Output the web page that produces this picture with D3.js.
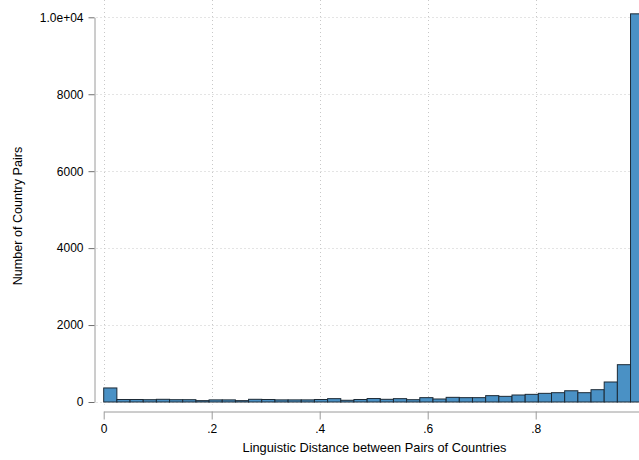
<!DOCTYPE html>
<html>
<head>
<meta charset="utf-8">
<script src="https://cdn.jsdelivr.net/npm/d3@7"></script>
<style>
  html, body { margin: 0; padding: 0; background: #fff; }
  svg { display: block; }
  text { font-family: "Liberation Sans", Arial, Helvetica, sans-serif; }
</style>
</head>
<body>
<svg id="chart" width="639" height="460"></svg>
<script>
// ---- data ----
const binCount = 41;              // number of histogram bins over [0, 1]
const counts = [
  365, 65, 65, 60, 70, 60, 60, 35, 55, 55,
  35, 70, 65, 55, 55, 55, 65, 87, 45, 65,
  90, 70, 87, 60, 113, 78, 121, 113, 113, 165,
  147, 182, 199, 225, 242, 292, 242, 320, 520, 970,
  10090
];
const xTicks = [0, 0.2, 0.4, 0.6, 0.8];
const xTickLabels = ["0", ".2", ".4", ".6", ".8"];
const yTicks = [0, 2000, 4000, 6000, 8000, 10000];
const yTickLabels = ["0", "2000", "4000", "6000", "8000", "1.0e+04"];
const xTitle = "Linguistic Distance between Pairs of Countries";
const yTitle = "Number of Country Pairs";

const bins = counts.map((c, k) => ({ x0: k / binCount, x1: (k + 1) / binCount, n: c }));

// ---- layout ----
const svg = d3.select("#chart");
const x = d3.scaleLinear().domain([0, 1]).range([103.7, 643.7]);
const y = d3.scaleLinear().domain([0, 10000]).range([402, 17.3]);
const plotLeft = 96.5, plotRight = 660, plotTop = 0, plotBottom = 404.5;

// gridlines
const grid = svg.append("g").attr("stroke", "#c8c8c8").attr("stroke-width", 1)
  .attr("stroke-dasharray", "1,3");
grid.selectAll("line.h").data(yTicks).join("line").attr("class", "h")
  .attr("x1", plotLeft).attr("x2", plotRight)
  .attr("y1", d => Math.round(y(d)) + 0.5).attr("y2", d => Math.round(y(d)) + 0.5);
grid.selectAll("line.v").data(xTicks).join("line").attr("class", "v")
  .attr("y1", plotTop).attr("y2", plotBottom)
  .attr("x1", d => Math.round(x(d)) + 0.5).attr("x2", d => Math.round(x(d)) + 0.5);

// bars
svg.append("g").selectAll("rect").data(bins).join("rect")
  .attr("x", d => x(d.x0))
  .attr("width", d => x(d.x1) - x(d.x0))
  .attr("y", d => y(d.n))
  .attr("height", d => y(0) - y(d.n))
  .attr("fill", "#4a91c5")
  .attr("stroke", "#1c2a36")
  .attr("stroke-width", 1);

// y axis
const yAxis = d3.axisLeft(y).tickValues(yTicks)
  .tickFormat((d, i) => yTickLabels[i]).tickSize(6).tickSizeOuter(0).tickPadding(5);
const gy = svg.append("g").attr("transform", "translate(94.5,0)").call(yAxis);
gy.select(".domain").attr("stroke", "#9a9a9a");
gy.selectAll(".tick line").attr("stroke", "#6e6e6e");
gy.selectAll(".tick text").attr("fill", "#000").style("font-size", "12px")
  .style("font-family", "'Liberation Sans', Arial, sans-serif");

// x axis
const xAxis = d3.axisBottom(x).tickValues(xTicks)
  .tickFormat((d, i) => xTickLabels[i]).tickSize(8).tickSizeOuter(0).tickPadding(5);
const gx = svg.append("g").attr("transform", "translate(0,411.5)").call(xAxis);
gx.select(".domain").attr("stroke", "#9a9a9a");
gx.selectAll(".tick line").attr("stroke", "#9a9a9a");
gx.selectAll(".tick text").attr("fill", "#000").style("font-size", "12px")
  .style("font-family", "'Liberation Sans', Arial, sans-serif");

// titles
svg.append("text").attr("x", 374.5).attr("y", 452)
  .attr("text-anchor", "middle").style("font-size", "12.8px").text(xTitle);
svg.append("text").attr("transform", "translate(22,216) rotate(-90)")
  .attr("text-anchor", "middle").style("font-size", "12.6px").text(yTitle);
</script>
</body>
</html>
